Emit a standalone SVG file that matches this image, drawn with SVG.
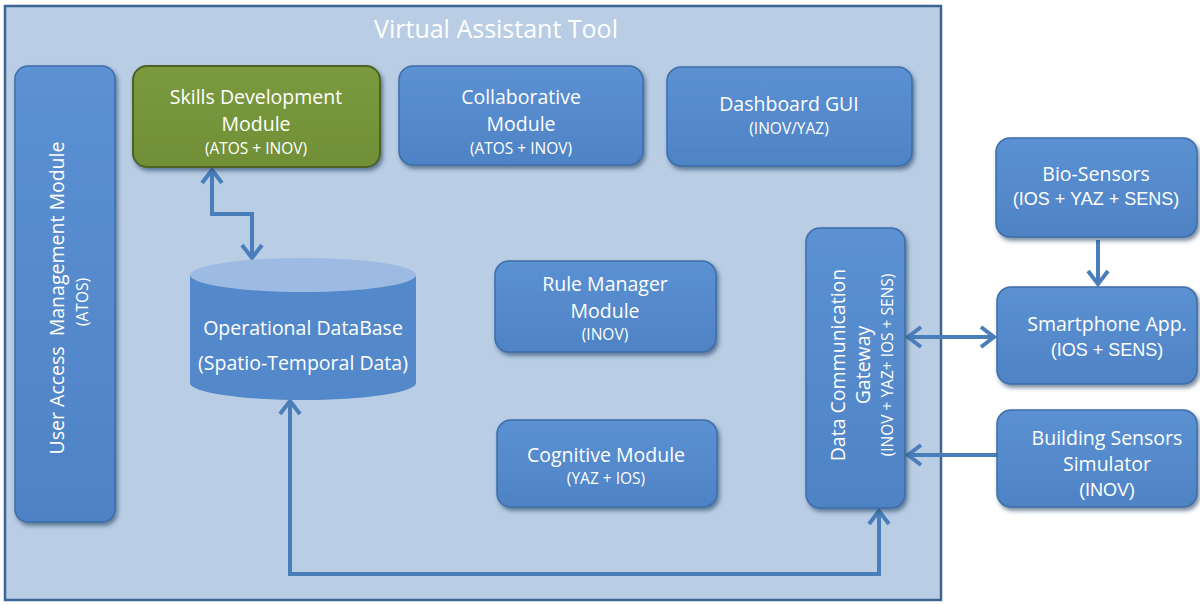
<svg xmlns="http://www.w3.org/2000/svg" width="1200" height="605" viewBox="0 0 1200 605">
  <defs>
    <linearGradient id="blueFill" x1="0" y1="0" x2="0" y2="1">
      <stop offset="0" stop-color="#5b91d3"/>
      <stop offset="1" stop-color="#4e83c5"/>
    </linearGradient>
    <linearGradient id="greenFill" x1="0" y1="0" x2="0" y2="1">
      <stop offset="0" stop-color="#7b9a3e"/>
      <stop offset="1" stop-color="#718f36"/>
    </linearGradient>
    <filter id="shadow" x="-10%" y="-10%" width="130%" height="130%">
      <feDropShadow dx="2" dy="3" stdDeviation="2" flood-color="#1f3a5f" flood-opacity="0.6"/>
    </filter>
    <marker id="chevron" viewBox="-2 -2 18 24" refX="13" refY="10" markerWidth="18" markerHeight="24" markerUnits="userSpaceOnUse" orient="auto-start-reverse">
      <path d="M0,0 L13,10 L0,20" fill="none" stroke="#4a7ebb" stroke-width="4" stroke-linejoin="miter"/>
    </marker>
    <style>
      .node { fill: url(#blueFill); stroke: #3e6ea8; stroke-width: 1.5; filter: url(#shadow); }
      .green { fill: url(#greenFill); stroke: #4f6228; stroke-width: 2; filter: url(#shadow); }
      .t { font-family: "Open Sans", Lato, "DejaVu Sans", sans-serif; fill: #ffffff; text-anchor: middle; }
      .big { font-size: 19.5px; }
      .small { font-size: 15.5px; }
      .arial { font-family: "Liberation Sans", Arial, sans-serif; fill: #ffffff; text-anchor: middle; font-size: 18px; }
      .conn { fill: none; stroke: #4a7ebb; stroke-width: 4; }
    </style>
  </defs>

  <rect x="0" y="0" width="1200" height="605" fill="#ffffff"/>

  <!-- Virtual Assistant Tool container -->
  <g id="virtual-assistant-tool">
    <rect x="5" y="6" width="936" height="594" fill="#b9cde5" stroke="#3d6594" stroke-width="2.5"/>
    <text class="t" x="496" y="38" font-size="25">Virtual Assistant Tool</text>
  </g>

  <!-- Connectors -->
  <g id="connectors">
    <path class="conn" d="M212,170 V214 H252 V258" marker-start="url(#chevron)" marker-end="url(#chevron)"/>
    <path class="conn" d="M290,401 V574 H879 V511" marker-start="url(#chevron)" marker-end="url(#chevron)"/>
    <path class="conn" d="M908,337 H994" marker-start="url(#chevron)" marker-end="url(#chevron)"/>
    <path class="conn" d="M997,455 H908" marker-end="url(#chevron)"/>
    <path class="conn" d="M1098,240 V284" marker-end="url(#chevron)"/>
  </g>

  <!-- User Access Management Module -->
  <g id="user-access">
    <rect class="node" x="15" y="66" width="100" height="456" rx="13"/>
    <text class="t big" x="64" y="298" transform="rotate(-90 64 298)" xml:space="preserve">User Access  Management Module</text>
    <text class="t small" x="88" y="302" transform="rotate(-90 88 302)">(ATOS)</text>
  </g>

  <!-- Skills Development Module -->
  <g id="skills-development">
    <rect class="green" x="133" y="66" width="247" height="101" rx="14"/>
    <text class="t big" x="256" y="104">Skills Development</text>
    <text class="t big" x="256" y="131">Module</text>
    <text class="t small" x="256" y="154">(ATOS + INOV)</text>
  </g>

  <!-- Collaborative Module -->
  <g id="collaborative">
    <rect class="node" x="399" y="66" width="244" height="99" rx="14"/>
    <text class="t big" x="521" y="104">Collaborative</text>
    <text class="t big" x="521" y="131">Module</text>
    <text class="t small" x="521" y="154">(ATOS + INOV)</text>
  </g>

  <!-- Dashboard GUI -->
  <g id="dashboard-gui">
    <rect class="node" x="667" y="67" width="245" height="99" rx="14"/>
    <text class="t big" x="789" y="111">Dashboard GUI</text>
    <text class="t small" x="789" y="134">(INOV/YAZ)</text>
  </g>

  <!-- Operational DataBase -->
  <g id="operational-database">
    <path d="M190,275 V383 A113,17 0 0 0 416,383 V275 Z" fill="#5388ca"/>
    <ellipse cx="303" cy="275" rx="113" ry="17" fill="#9dbbe2"/>
    <text class="t big" x="303" y="335">Operational DataBase</text>
    <text class="t big" x="303" y="370">(Spatio-Temporal Data)</text>
  </g>

  <!-- Rule Manager Module -->
  <g id="rule-manager">
    <rect class="node" x="495" y="261" width="221" height="91" rx="14"/>
    <text class="t big" x="605" y="291">Rule Manager</text>
    <text class="t big" x="605" y="318">Module</text>
    <text class="t small" x="605" y="340">(INOV)</text>
  </g>

  <!-- Cognitive Module -->
  <g id="cognitive">
    <rect class="node" x="497" y="420" width="220" height="87" rx="14"/>
    <text class="t big" x="606" y="462">Cognitive Module</text>
    <text class="t small" x="606" y="484">(YAZ + IOS)</text>
  </g>

  <!-- Data Communication Gateway -->
  <g id="data-communication-gateway">
    <rect class="node" x="806" y="228" width="99" height="280" rx="14"/>
    <text class="t big" x="845" y="365" transform="rotate(-90 845 365)">Data Communication</text>
    <text class="t big" x="870" y="365" transform="rotate(-90 870 365)">Gateway</text>
    <text class="t small" x="893" y="365" transform="rotate(-90 893 365)">(INOV + YAZ+ IOS + SENS)</text>
  </g>

  <!-- Bio-Sensors -->
  <g id="bio-sensors">
    <rect class="node" x="996" y="138" width="201" height="99" rx="14"/>
    <text class="t big" x="1096" y="181">Bio-Sensors</text>
    <text class="arial" x="1096" y="205">(IOS + YAZ + SENS)</text>
  </g>

  <!-- Smartphone App. -->
  <g id="smartphone-app">
    <rect class="node" x="997" y="287" width="200" height="97" rx="14"/>
    <text class="t big" x="1107" y="331">Smartphone App.</text>
    <text class="arial" x="1107" y="356">(IOS + SENS)</text>
  </g>

  <!-- Building Sensors Simulator -->
  <g id="building-sensors-simulator">
    <rect class="node" x="997" y="410" width="200" height="97" rx="14"/>
    <text class="t big" x="1107" y="445">Building Sensors</text>
    <text class="t big" x="1107" y="471">Simulator</text>
    <text class="arial" x="1107" y="496">(INOV)</text>
  </g>
</svg>
